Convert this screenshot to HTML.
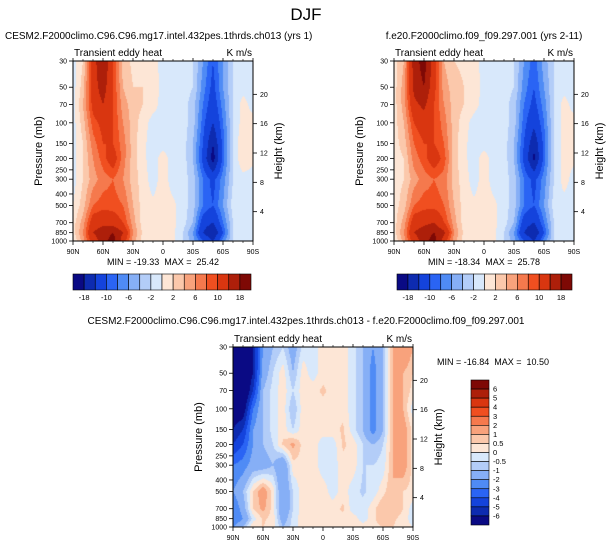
<!DOCTYPE html>
<html><head><meta charset="utf-8"><style>
body{margin:0;background:#fff;width:612px;height:547px;overflow:hidden;font-family:"Liberation Sans",sans-serif}
#wrap{position:relative;width:612px;height:547px}
canvas{position:absolute}
svg{position:absolute;left:0;top:0}
text{font-family:"Liberation Sans",sans-serif;fill:#000;white-space:pre}
</style></head><body><div id="wrap">
<canvas id="c1"></canvas>
<canvas id="c2"></canvas>
<canvas id="c3"></canvas>
<svg id="s" width="612" height="547"></svg>
</div>
<script>
const lats=[90,80,70,60,50,40,30,20,10,0,-10,-20,-30,-40,-50,-60,-70,-80,-90];
const levels=[30,50,70,100,150,200,300,500,700,850,1000];
const field1=[
[-1,2,12,18,10,3,1.5,1.5,1,-1,-1,-1,-2,-6,-10,-6,-2,-1,-1],
[-1,3,12,16,10,4,2,2,1.5,-1,-1,-1,-2,-7,-11,-6,-2,-1,-1],
[-1,4,11,14,10,5,3,2,1,-1,-1,-1,-3,-8,-12,-7,-2,1,-1],
[-1,3,9,11,10,6,3,1,-1,-1,-1,-1,-3,-9,-14,-8,-2,1,1],
[-1,2,7,10,10,7,3,0.5,-1,-1,-1,-1,-4,-10,-18,-9,-2,2,1],
[-1,2,6,9,12,7,3,0.5,-1,1,-1,-1,-4,-11,-20,-9,-2,2,0.5],
[-1,2,5,7,8,6,3,1,-1,1,-1,-1,-3,-8,-11,-7,-2,-1,-1],
[0,3,8,9,9,8,4,1,0.5,1,0.5,-1,-3,-8,-10,-6,-1,-1,-1],
[1,5,12,13,12,10,5,1,0.5,1,0.5,-1,-4,-12,-14,-8,-2,-1,-1],
[1,6,14,16,18,14,6,1.5,0.5,1,0.5,-2,-6,-14,-18,-10,-2,-1,-1],
[0,5,12,16,20,12,5,1,0.5,1,0.5,-2,-5,-10,-14,-7,-2,-1,-1]];
const field2=[
[1,4,16,20,12,4,2,1.5,1,-1,-1,-1,-2,-6,-9,-5,-2,-1,-1],
[1,5,15,18,11,5,3,2,1.5,-1,-1,-1,-2,-7,-10,-6,-2,-1,-1],
[1,5,13,15,10,6,3,2,1,-1,-1,-1,-3,-8,-11,-7,-2,1,-1],
[1,4,10,12,10,7,3,1,-1,-2,-1,-1,-3,-9,-13,-8,-2,1,1],
[1,3,8,10,10,8,3,0.5,-1,-1,-1,-1,-4,-10,-17,-9,-2,1,1],
[1,2,7,9,12,9,3,0.5,-1,1,-1,-1,-4,-11,-19,-9,-2,1,0.5],
[1,2,5,7,8,7,3,1,-1,1,-1,-1,-3,-8,-11,-7,-2,1,-1],
[1,3,8,9,9,8,4,1,0.5,1,0.5,-1,-3,-8,-10,-6,-1,-1,-1],
[1,5,12,13,14,10,5,1,0.5,1,0.5,-1,-4,-12,-14,-8,-2,-1,-1],
[1,6,14,16,18,15,6,1.5,0.5,1,0.5,-2,-6,-14,-18,-10,-2,-1,-1],
[0,5,12,16,20,12,5,1,0.5,1,0.5,-2,-5,-10,-14,-7,-2,-1,-1]];
const field3=[
[-8,-8,-6,-2,-1,-0.5,-1.5,-0.3,-0.3,0.3,0.3,0.3,-0.3,-1,-2,-1,1,2,1],
[-8,-8,-6,-1.5,-0.5,0.3,-1,0.3,-0.3,0.3,0.3,0.3,-0.3,-1,-2.5,-1,1,1,0.5],
[-8,-8,-5,-1,-0.3,0.3,-0.5,0.3,0.3,0.6,0.3,0.3,-0.3,-1,-2.5,-1,1,1,0.3],
[-7,-7,-3,-1,-0.3,0.3,-1,0.3,0.3,0.3,0.3,0.3,-0.3,-1,-2.5,-1,1,1,-0.3],
[-6,-5,-2,-1,-0.3,0.3,-0.5,0.3,0.3,0.3,0.3,0.6,-0.3,-1,-2.5,-1,1,1.5,0.3],
[-5,-4,-2,-1,-0.5,0.6,1.2,0.3,0.3,-0.3,-0.3,0.6,0.3,-0.5,-1,-0.5,1,1.5,0.3],
[-3,-2.5,-1.5,-1.5,-1,-2,0.3,0.3,0.3,-0.3,-0.3,0.3,0.3,-0.5,-0.5,-0.3,1,1.5,0.3],
[-2,-1,0.5,1.5,0.3,-2,-0.5,0.3,0.3,0.3,-0.3,0.3,-0.3,-0.6,-0.3,0.3,1,0.5,0.3],
[-3,-1.5,0.5,1.2,0.3,-2,-0.5,0.3,0.3,0.3,0.3,0.6,-0.3,-0.3,0.3,1,1,0.5,-0.3],
[-3,-2,-0.3,0.6,0.3,-1.5,-0.3,0.3,0.3,0.3,0.3,0.3,0.3,-0.3,0.3,1,0.6,0.3,-0.3],
[-2,-1,0.5,0.5,0.3,-1,-0.3,0.3,0.3,0.3,0.3,0.3,0.3,0.3,0.3,0.5,0.5,0.3,0]];
const contours1=[-18,-14,-10,-8,-6,-4,-2,0,2,4,6,8,10,14,18];
const contours3=[-6,-5,-4,-3,-2,-1,-0.5,0,0.5,1,2,3,4,5,6];
const labels1=["-18","-10","-6","-2","2","6","10","18"];
const labels3=["6","5","4","3","2","1","0.5","0","-0.5","-1","-2","-3","-4","-5","-6"];
const pTicks=[30,50,70,100,150,200,250,300,400,500,700,850,1000];
const zTicks=[4,8,12,16,20];
const latTicks=[90,60,30,0,-30,-60,-90];
const latLabels=["90N","60N","30N","0","30S","60S","90S"];
const colors=["#0a0a84","#0d2bb0","#1443dc","#2a64f4","#4f8bf5","#86aff6","#b3cdf8","#d8e8fb","#fde6d6","#fbc8ab","#f8a27c","#f5794d","#f04f20","#d93610","#ad1f0a","#7e0905"];

const P={w:180,h:180};
const S=document.getElementById('s');
const NS="http://www.w3.org/2000/svg";
function mk(tag,attrs,txt){const e=document.createElementNS(NS,tag);for(const k in attrs)e.setAttribute(k,attrs[k]);if(txt!==undefined)e.textContent=txt;S.appendChild(e);return e;}
const lnTop=Math.log(30),lnBot=Math.log(1000);
function yOf(p,y0){return y0+P.h*(Math.log(p)-lnTop)/(lnBot-lnTop);}
function xOf(lat,x0){return x0+P.w*(90-lat)/180;}
function colorIdx(v,cs){let i=0;while(i<cs.length&&v>=cs[i])i++;return i;}
function hex(c){return[parseInt(c.slice(1,3),16),parseInt(c.slice(3,5),16),parseInt(c.slice(5,7),16)];}
const rgb=colors.map(hex);
function sample(f,lat,lp){
  let fi=(90-lat)/10;let i0=Math.min(Math.floor(fi),lats.length-2);let ti=fi-i0;
  let j0=0;const ll=levels.map(Math.log);
  while(j0<ll.length-2&&lp>ll[j0+1])j0++;
  let tj=(lp-ll[j0])/(ll[j0+1]-ll[j0]);tj=Math.max(0,Math.min(1,tj));
  const a=f[j0][i0],b=f[j0][i0+1],c=f[j0+1][i0],d=f[j0+1][i0+1];
  return (a*(1-ti)+b*ti)*(1-tj)+(c*(1-ti)+d*ti)*tj;
}
function drawField(id,f,cs,x0,y0){
  const c=document.getElementById(id);c.width=P.w;c.height=P.h;c.style.left=x0+'px';c.style.top=y0+'px';
  const ctx=c.getContext('2d');const im=ctx.createImageData(P.w,P.h);
  for(let y=0;y<P.h;y++){const lp=lnTop+(y+0.5)/P.h*(lnBot-lnTop);
    for(let x=0;x<P.w;x++){const lat=90-(x+0.5)/P.w*180;const v=sample(f,lat,lp);
      const k=colorIdx(v,cs);const o=(y*P.w+x)*4;im.data[o]=rgb[k][0];im.data[o+1]=rgb[k][1];im.data[o+2]=rgb[k][2];im.data[o+3]=255;}}
  ctx.putImageData(im,0,0);
}
function axes(x0,y0,name){
  mk('rect',{x:x0,y:y0,width:P.w,height:P.h,fill:'none',stroke:'#000','stroke-width':1,});
  pTicks.forEach(p=>{const y=yOf(p,y0);mk('line',{x1:x0-4,x2:x0,y1:y,y2:y,stroke:'#000','stroke-width':0.8});
    const t=mk('text',{x:x0-6,y:y+2.5,'font-size':7,'text-anchor':'end'},String(p));});
  zTicks.forEach(z=>{const p=1000*Math.exp(-z/7);const y=yOf(p,y0);mk('line',{x1:x0+P.w,x2:x0+P.w+4,y1:y,y2:y,stroke:'#000','stroke-width':0.8});
    const t=mk('text',{x:x0+P.w+7,y:y+2.5,'font-size':7},String(z));});
  latTicks.forEach((l,i)=>{const x=xOf(l,x0);mk('line',{x1:x,x2:x,y1:y0+P.h,y2:y0+P.h+4,stroke:'#000','stroke-width':0.8});
    mk('line',{x1:x,x2:x,y1:y0,y2:y0-3,stroke:'#000','stroke-width':0.8});
    const t=mk('text',{x:x,y:y0+P.h+13,'font-size':7,'text-anchor':'middle'},latLabels[i]);});
  for(let l=80;l>-90;l-=10){if(l%30===0)continue;const x=xOf(l,x0);mk('line',{x1:x,x2:x,y1:y0+P.h,y2:y0+P.h+2,stroke:'#000','stroke-width':0.6});mk('line',{x1:x,x2:x,y1:y0,y2:y0-2,stroke:'#000','stroke-width':0.6});}
  mk('text',{x:x0-31,y:y0+P.h/2,'font-size':11,'text-anchor':'middle',transform:`rotate(-90 ${x0-31} ${y0+P.h/2})`,},'Pressure (mb)');
  mk('text',{x:x0+P.w+29,y:y0+P.h/2,'font-size':11,'text-anchor':'middle',transform:`rotate(-90 ${x0+P.w+29} ${y0+P.h/2})`,},'Height (km)');
  mk('text',{x:x0+1,y:y0-5,'font-size':10,},'Transient eddy heat');
  mk('text',{x:x0+P.w-1,y:y0-5,'font-size':10,'text-anchor':'end',},'K m/s');
}
function hbar(x0,y0,w,h,name){
  const bw=w/16;
  colors.forEach((c,i)=>{const r=mk('rect',{x:x0+i*bw,y:y0,width:bw,height:h,fill:c,stroke:'#000','stroke-width':0.6});
    });
  labels1.forEach((l,i)=>{const t=mk('text',{x:x0+(2*i+1)*bw,y:y0+h+10,'font-size':7.5,'text-anchor':'middle'},l);
    });
}
mk('text',{x:306,y:20,'font-size':17,'text-anchor':'middle',},'DJF');

const L={x:73,y:61},R={x:394,y:61},B={x:233,y:347};
drawField('c1',field1,contours1,L.x,L.y);
drawField('c2',field2,contours1,R.x,R.y);
drawField('c3',field3,contours3,B.x,B.y);
axes(L.x,L.y,'cesm2-plot');axes(R.x,R.y,'f09-plot');axes(B.x,B.y,'diff-plot');
mk('text',{x:L.x-68,y:39,'font-size':10,},'CESM2.F2000climo.C96.C96.mg17.intel.432pes.1thrds.ch013 (yrs 1)');
mk('text',{x:R.x+90,y:39,'font-size':10,'text-anchor':'middle',},'f.e20.F2000climo.f09_f09.297.001 (yrs 2-11)');
mk('text',{x:306,y:324,'font-size':10,'text-anchor':'middle',},'CESM2.F2000climo.C96.C96.mg17.intel.432pes.1thrds.ch013 - f.e20.F2000climo.f09_f09.297.001');
mk('text',{x:L.x+90,y:265,'font-size':9,'text-anchor':'middle',},'MIN = -19.33  MAX =  25.42');
mk('text',{x:R.x+90,y:265,'font-size':9,'text-anchor':'middle',},'MIN = -18.34  MAX =  25.78');
mk('text',{x:437,y:365,'font-size':9,},'MIN = -16.84  MAX =  10.50');
hbar(73,274,178,16,'cesm2-colorbar');
hbar(397,274,175,16,'f09-colorbar');
(function(){const x0=471,y0=380,w=18,h=145,bh=h/16;
  for(let i=0;i<16;i++){const r=mk('rect',{x:x0,y:y0+i*bh,width:w,height:bh,fill:colors[15-i],stroke:'#000','stroke-width':0.6});
    }
  labels3.forEach((l,i)=>{const t=mk('text',{x:x0+w+4,y:y0+(i+1)*bh+2.5,'font-size':7.5},l);
    });
})();
</script></body></html>
